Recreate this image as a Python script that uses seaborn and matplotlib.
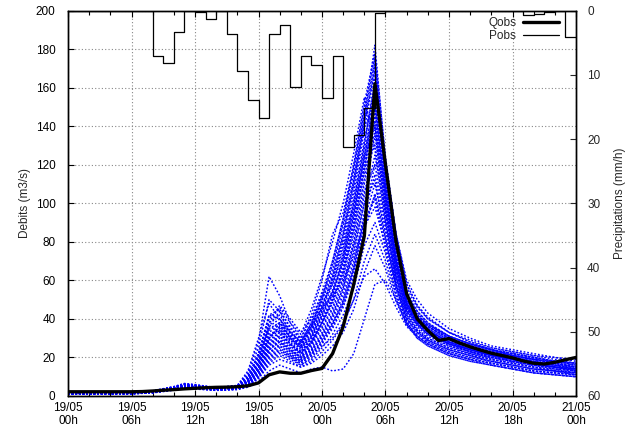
import numpy as np
import pandas as pd
import matplotlib
matplotlib.use("Agg")
import matplotlib.pyplot as plt
from matplotlib.ticker import MultipleLocator, FixedLocator
import seaborn as sns

# Observed discharge (m3/s), hourly from 19/05 00h to 21/05 00h
q_hours = list(range(49))
q_obs = [2.2, 2.2, 2.2, 2.2, 2.2, 2.2, 2.2, 2.3, 2.6, 3.0,
         3.3, 3.7, 4.0, 4.3, 4.5, 4.6, 4.8, 5.3, 6.8, 11.0,
         12.5, 11.8, 11.8, 13.2, 14.3, 22.0, 36.0, 58.0, 83.0, 162.0,
         120.0, 80.0, 53.0, 40.0, 34.0, 28.8, 29.8, 27.5, 25.5, 23.8,
         22.2, 21.0, 19.8, 18.2, 17.0, 16.6, 17.5, 18.8, 20.0]

# Observed rainfall (mm/h), one value per hour (step)
p_obs = [0, 0, 0, 0, 0, 0, 0, 0.15, 7.1, 8.2,
         3.3, 0, 0.25, 1.3, 0, 3.7, 9.4, 14.0, 16.8, 3.7,
         2.3, 11.9, 7.1, 8.5, 13.6, 7.1, 21.2, 19.4, 15.1, 0.4,
         0, 0.15, 0.15, 0, 0, 0, 0, 0, 0, 0,
         0, 0, 0, 0.65, 0.5, 0.3, 0, 4.1]

# Ensemble forecast members (m3/s) at these hours
ens_hours = [0, 6, 8, 10, 11, 12, 14, 16, 17, 18, 19, 20, 21, 22, 23, 24, 25,
             26, 27, 28, 29, 30, 31, 32, 33, 34, 36, 38, 40, 42, 44, 46, 48]
m01 = [1.5, 1.6, 2.5, 4.6, 6.2, 5.6, 4.2, 5.2, 12, 28, 62, 52, 38, 30, 40, 52, 66, 88, 112, 145, 182, 122, 82, 56, 46, 40, 33, 29, 25, 23, 21, 20, 19]
m02 = [1.4, 1.5, 2.4, 4.4, 5.8, 5.3, 4.0, 4.9, 10, 22, 42, 45, 35, 30, 42, 60, 84, 95, 120, 150, 176, 118, 78, 54, 44, 38, 31, 27, 24, 22, 20, 18, 17]
m03 = [1.6, 1.7, 2.6, 4.8, 6.4, 5.8, 4.3, 5.4, 11, 25, 50, 44, 32, 26, 36, 50, 62, 80, 105, 138, 170, 115, 76, 52, 43, 37, 31, 27, 24, 21, 19, 18, 16]
m04 = [1.5, 1.6, 2.4, 4.5, 6.0, 5.5, 4.1, 5.0, 9.0, 20, 38, 42, 34, 28, 38, 48, 58, 74, 98, 130, 165, 112, 74, 50, 41, 36, 30, 26, 23, 21, 19, 17, 15]
m05 = [1.4, 1.5, 2.3, 4.2, 5.5, 5.1, 3.9, 4.7, 8.0, 18, 34, 38, 30, 25, 33, 44, 54, 68, 92, 122, 160, 110, 72, 50, 42, 37, 31, 27, 24, 21, 19, 17, 16]
m06 = [1.3, 1.4, 2.2, 4.0, 5.2, 4.8, 3.7, 4.4, 7.5, 16, 30, 36, 28, 23, 30, 40, 50, 64, 86, 116, 155, 106, 70, 48, 40, 35, 29, 25, 22, 20, 18, 16, 15]
m07 = [1.5, 1.6, 2.5, 4.5, 5.9, 5.4, 4.1, 5.0, 8.5, 19, 36, 40, 33, 27, 34, 45, 60, 82, 108, 140, 150, 104, 70, 49, 41, 36, 30, 26, 23, 21, 19, 17, 15]
m08 = [1.6, 1.7, 2.6, 4.7, 6.1, 5.6, 4.2, 5.2, 10, 21, 35, 38, 31, 27, 36, 50, 70, 92, 118, 148, 140, 98, 66, 46, 39, 34, 28, 25, 22, 20, 18, 16, 14]
m09 = [1.3, 1.4, 2.1, 3.9, 5.0, 4.6, 3.6, 4.3, 7.0, 15, 28, 33, 27, 22, 28, 38, 48, 62, 84, 112, 145, 102, 68, 47, 39, 34, 28, 24, 22, 19, 17, 16, 14]
m10 = [1.4, 1.5, 2.3, 4.1, 5.3, 4.9, 3.8, 4.5, 7.5, 16, 31, 35, 29, 24, 31, 42, 55, 72, 96, 124, 140, 100, 67, 47, 39, 34, 28, 25, 22, 20, 18, 16, 15]
m11 = [1.2, 1.3, 2.0, 3.7, 4.8, 4.4, 3.4, 4.1, 6.5, 14, 26, 30, 25, 20, 26, 35, 45, 58, 78, 104, 135, 98, 66, 46, 38, 33, 27, 24, 21, 19, 17, 15, 14]
m12 = [1.5, 1.6, 2.4, 4.3, 5.6, 5.2, 4.0, 4.8, 8.0, 17, 32, 34, 27, 23, 29, 38, 50, 66, 90, 118, 130, 96, 65, 46, 38, 33, 27, 24, 21, 19, 17, 15, 14]
m13 = [1.3, 1.4, 2.1, 3.8, 4.9, 4.5, 3.5, 4.2, 6.8, 14, 25, 29, 24, 20, 25, 33, 43, 56, 76, 100, 125, 94, 64, 45, 37, 32, 27, 23, 21, 18, 16, 15, 13]
m14 = [1.4, 1.5, 2.2, 4.0, 5.1, 4.7, 3.7, 4.3, 7.0, 15, 27, 31, 26, 21, 27, 36, 46, 60, 80, 106, 120, 90, 62, 44, 37, 32, 26, 23, 20, 18, 16, 15, 13]
m15 = [1.2, 1.3, 1.9, 3.6, 4.6, 4.2, 3.3, 3.9, 6.0, 12, 22, 27, 23, 19, 23, 31, 40, 52, 70, 95, 115, 88, 60, 43, 36, 31, 26, 22, 20, 18, 16, 14, 13]
m16 = [1.3, 1.4, 2.0, 3.7, 4.7, 4.3, 3.4, 4.0, 6.2, 13, 23, 26, 22, 18, 22, 29, 38, 50, 68, 92, 110, 85, 58, 42, 35, 30, 25, 22, 19, 17, 15, 14, 12]
m17 = [1.1, 1.2, 1.8, 3.4, 4.4, 4.0, 3.2, 3.7, 5.5, 11, 20, 24, 20, 17, 21, 27, 35, 46, 62, 86, 105, 82, 57, 41, 34, 30, 25, 22, 19, 17, 15, 13, 12]
m18 = [1.2, 1.3, 1.9, 3.5, 4.5, 4.1, 3.3, 3.8, 5.8, 12, 21, 25, 21, 18, 22, 28, 36, 47, 64, 88, 98, 78, 55, 40, 34, 29, 24, 21, 19, 17, 15, 13, 12]
m19 = [1.1, 1.2, 1.7, 3.3, 4.2, 3.9, 3.1, 3.6, 5.2, 10, 18, 22, 19, 16, 19, 25, 32, 42, 56, 78, 90, 74, 53, 39, 33, 28, 23, 20, 18, 16, 14, 13, 11]
m20 = [1.4, 1.5, 2.2, 4.0, 5.2, 4.8, 3.7, 4.3, 6.5, 14, 24, 28, 24, 20, 24, 30, 38, 48, 66, 94, 120, 122, 84, 58, 47, 40, 33, 28, 24, 22, 20, 18, 16]
m21 = [1.1, 1.2, 1.7, 3.2, 4.1, 3.8, 3.0, 3.5, 5.0, 9.0, 16, 19, 17, 15, 17, 21, 26, 33, 45, 64, 78, 66, 49, 37, 31, 27, 22, 19, 17, 15, 13, 12, 11]
m22 = [1.0, 1.1, 1.6, 3.0, 3.9, 3.6, 2.9, 3.3, 4.6, 7.5, 13, 16, 14, 12, 14, 15, 13, 14, 22, 40, 58, 60, 50, 38, 31, 27, 22, 19, 16, 14, 12, 11, 10]
m23 = [1.2, 1.3, 1.8, 3.4, 4.3, 4.0, 3.1, 3.7, 5.4, 10, 19, 23, 20, 16, 20, 26, 30, 38, 50, 62, 66, 58, 46, 36, 31, 27, 22, 19, 17, 15, 13, 12, 11]
m24 = [1.4, 1.5, 2.3, 4.2, 5.4, 5.0, 3.9, 4.6, 7.8, 17, 33, 37, 30, 25, 32, 44, 58, 76, 102, 132, 158, 108, 72, 50, 41, 36, 30, 26, 23, 21, 19, 17, 15]
m25 = [1.3, 1.4, 2.1, 3.9, 5.0, 4.6, 3.6, 4.2, 7.0, 15, 29, 33, 27, 22, 28, 38, 49, 64, 88, 118, 150, 104, 69, 48, 40, 35, 29, 25, 22, 20, 18, 16, 14]
m26 = [1.5, 1.6, 2.4, 4.4, 5.7, 5.2, 4.0, 4.8, 8.2, 18, 30, 36, 31, 26, 34, 46, 62, 84, 112, 142, 168, 114, 76, 53, 44, 38, 31, 27, 24, 22, 20, 18, 17]
m27 = [1.6, 1.7, 2.7, 4.9, 6.5, 5.9, 4.4, 5.5, 13, 30, 48, 40, 30, 26, 35, 47, 60, 78, 100, 128, 152, 104, 70, 50, 42, 37, 31, 27, 24, 22, 20, 18, 17]
m28 = [1.5, 1.6, 2.5, 4.5, 6.0, 5.5, 4.1, 5.0, 9.5, 22, 40, 46, 38, 32, 45, 62, 80, 100, 126, 155, 128, 90, 62, 45, 38, 33, 27, 24, 21, 19, 17, 15, 14]
m29 = [1.2, 1.3, 1.9, 3.5, 4.5, 4.1, 3.2, 3.8, 6.0, 13, 24, 28, 23, 19, 24, 32, 42, 56, 80, 110, 138, 92, 58, 38, 30, 26, 21, 18, 16, 14, 12, 11, 10]
m30 = [1.3, 1.4, 2.1, 3.8, 4.9, 4.5, 3.5, 4.2, 6.8, 14, 27, 32, 27, 23, 30, 41, 53, 70, 94, 126, 148, 96, 62, 42, 34, 29, 24, 21, 18, 16, 14, 13, 12]
m31 = [1.4, 1.5, 2.3, 4.2, 5.4, 5.0, 3.8, 4.5, 7.5, 17, 36, 44, 36, 29, 37, 50, 64, 84, 110, 142, 172, 110, 70, 48, 39, 34, 28, 24, 21, 19, 17, 15, 14]
m32 = [1.5, 1.6, 2.4, 4.3, 5.6, 5.1, 3.9, 4.7, 8.0, 17, 30, 34, 29, 25, 31, 42, 54, 70, 94, 124, 150, 120, 84, 60, 50, 43, 35, 30, 26, 24, 22, 20, 18]
m33 = [1.3, 1.4, 2.0, 3.7, 4.8, 4.4, 3.4, 4.1, 6.4, 13, 24, 29, 24, 20, 27, 38, 52, 72, 100, 132, 162, 108, 70, 48, 40, 34, 28, 24, 21, 19, 17, 15, 13]
m34 = [1.5, 1.6, 2.4, 4.4, 5.7, 5.2, 4.0, 4.8, 9.0, 22, 42, 40, 33, 28, 36, 46, 52, 60, 72, 90, 104, 80, 58, 44, 37, 32, 27, 23, 20, 18, 16, 14, 13]
m35 = [1.2, 1.3, 1.9, 3.6, 4.6, 4.2, 3.3, 3.9, 6.0, 12, 22, 26, 22, 18, 23, 31, 41, 54, 74, 100, 112, 82, 56, 40, 33, 29, 24, 21, 18, 16, 14, 13, 12]
m36 = [1.4, 1.5, 2.2, 4.0, 5.1, 4.7, 3.7, 4.4, 7.2, 16, 30, 38, 33, 28, 38, 52, 68, 90, 116, 146, 174, 116, 76, 52, 42, 36, 30, 26, 23, 21, 19, 17, 15]
m37 = [1.1, 1.2, 1.7, 3.2, 4.1, 3.8, 3.0, 3.5, 5.0, 9.5, 17, 21, 18, 15, 18, 23, 29, 37, 50, 70, 84, 70, 50, 37, 30, 26, 21, 18, 16, 14, 12, 11, 10]
m38 = [1.3, 1.4, 2.1, 3.9, 5.0, 4.6, 3.6, 4.2, 6.8, 14, 26, 31, 26, 22, 28, 38, 50, 66, 90, 120, 142, 100, 66, 46, 38, 33, 27, 23, 20, 18, 16, 15, 13]
m39 = [1.5, 1.6, 2.4, 4.4, 5.7, 5.2, 4.0, 4.8, 8.4, 19, 38, 47, 40, 33, 40, 54, 70, 92, 120, 152, 178, 124, 84, 58, 47, 41, 33, 28, 25, 23, 21, 19, 17]
m40 = [1.2, 1.3, 1.8, 3.4, 4.4, 4.0, 3.2, 3.7, 5.6, 11, 20, 24, 21, 17, 21, 28, 37, 49, 66, 90, 102, 76, 52, 38, 32, 28, 23, 20, 17, 15, 13, 12, 11]
members = [m01, m02, m03, m04, m05, m06, m07, m08, m09, m10,
           m11, m12, m13, m14, m15, m16, m17, m18, m19, m20,
           m21, m22, m23, m24, m25, m26, m27, m28, m29, m30,
           m31, m32, m33, m34, m35, m36, m37, m38, m39, m40]

x_tick_labels = ["19/05\n00h", "19/05\n06h", "19/05\n12h", "19/05\n18h",
                 "20/05\n00h", "20/05\n06h", "20/05\n12h", "20/05\n18h",
                 "21/05\n00h"]


def main():
    ens = pd.DataFrame(
        [(i, h, v) for i, m in enumerate(members) for h, v in zip(ens_hours, m)],
        columns=["member", "hour", "flow"],
    )
    qdf = pd.DataFrame({"hour": q_hours, "flow": q_obs})
    pdf = pd.DataFrame({"hour": list(range(49)), "rain": p_obs + [p_obs[-1]]})

    sns.set_style("ticks")
    plt.rcParams["font.family"] = ["Liberation Sans", "DejaVu Sans"]
    plt.rcParams["font.size"] = 8.5

    fig = plt.figure(figsize=(6.39, 4.33), dpi=100)
    ax = fig.add_axes([68 / 639, 1 - 396 / 433, 508 / 639, 385.5 / 433])
    ax2 = ax.twinx()

    # ensemble members
    sns.lineplot(data=ens, x="hour", y="flow", units="member", estimator=None,
                 color="#0000ff", lw=1.05, linestyle=(0, (1.2, 1.3)),
                 legend=False, ax=ax)
    # observed discharge
    sns.lineplot(data=qdf, x="hour", y="flow", color="black", lw=2.4,
                 label="Qobs", ax=ax)
    # observed rainfall, inverted on the right axis
    sns.lineplot(data=pdf, x="hour", y="rain", color="black", lw=0.9,
                 drawstyle="steps-post", label="Pobs", ax=ax2)

    ax.set_xlim(0, 48)
    ax.set_ylim(0, 200)
    ax2.set_ylim(60, 0)

    ax.xaxis.set_major_locator(FixedLocator(range(0, 49, 6)))
    ax.xaxis.set_minor_locator(MultipleLocator(2))
    ax.set_xticklabels(x_tick_labels)
    ax.yaxis.set_major_locator(MultipleLocator(20))
    ax2.yaxis.set_major_locator(MultipleLocator(10))

    ax.grid(True, which="major", linestyle=(0, (1, 2)), color="#888888", lw=0.8)
    ax.tick_params(which="both", direction="in", top=True, length=4, width=0.8,
                   labelsize=8.5, colors="black")
    ax.tick_params(axis="x", pad=4)
    ax.tick_params(axis="y", pad=9)
    ax.tick_params(which="minor", length=3)
    ax2.tick_params(direction="in", length=4, width=0.8, labelsize=8.5, pad=8)
    for a in (ax, ax2):
        for s in a.spines.values():
            s.set_linewidth(1.0)
            s.set_color("black")

    ax.set_xlabel("")
    ax.set_ylabel("Debits (m3/s)", fontsize=8.5, labelpad=3)
    ax2.set_ylabel("Precipitations (mm/h)", fontsize=8.5, rotation=90, labelpad=10)

    h1, l1 = ax.get_legend_handles_labels()
    h2, l2 = ax2.get_legend_handles_labels()
    if ax.get_legend() is not None:
        ax.get_legend().remove()
    ax2.legend(h1 + h2, l1 + l2, loc="upper right", bbox_to_anchor=(0.975, 0.995),
               frameon=False, markerfirst=False, handlelength=3.0,
               labelspacing=0.05, borderaxespad=0, handletextpad=0.6, fontsize=8.5)

    fig.savefig("out.png", dpi=100)


if __name__ == "__main__":
    main()
